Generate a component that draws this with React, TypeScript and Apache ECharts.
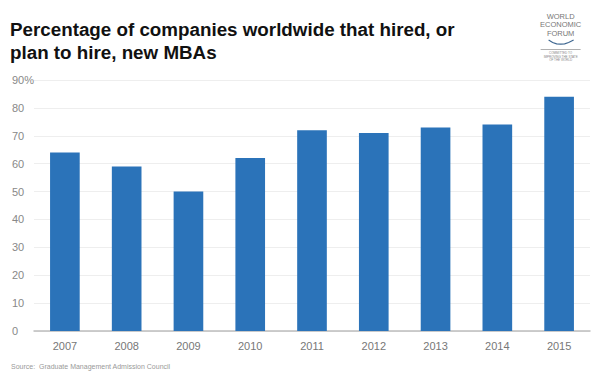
import React, { useEffect, useRef } from "react";
import * as echarts from "echarts";

const years = ["2007", "2008", "2009", "2010", "2011", "2012", "2013", "2014", "2015"];
const shares = [64, 59, 50, 62, 72, 71, 73, 74, 84];
const titleLines = ["Percentage of companies worldwide that hired, or", "plan to hire, new MBAs"];
const sourceText = "Source:  Graduate Management Admission Council";

export default function App() {
  const ref = useRef<HTMLDivElement>(null);
  useEffect(() => {
    const chart = echarts.init(ref.current!, null, { renderer: "svg" });
    const font = "'Liberation Sans', Arial, Helvetica, sans-serif";
    chart.setOption({
      animation: false,
      backgroundColor: "#ffffff",
      textStyle: { fontFamily: font },
      grid: { left: 34, right: 10, top: 80, bottom: 57 },
      xAxis: {
        type: "category",
        data: years,
        axisTick: { show: false },
        axisLine: { lineStyle: { color: "#bdbdbd", width: 1.5 } },
        axisLabel: { color: "#777777", fontSize: 11, margin: 9, fontFamily: font },
      },
      yAxis: {
        type: "value",
        min: 0,
        max: 90,
        interval: 10,
        splitLine: { lineStyle: { color: "#eeeeee", width: 1 } },
        axisLabel: {
          color: "#888888",
          fontSize: 11,
          align: "left",
          margin: 22,
          fontFamily: font,
          formatter: (v: number) => (v === 90 ? "90%" : String(v)),
        },
      },
      series: [
        {
          type: "bar",
          data: shares,
          barWidth: "48%",
          itemStyle: { color: "#2b73b9" },
        },
      ],
      graphic: {
        elements: [
          {
            type: "text",
            left: 10,
            top: 18,
            style: {
              text: titleLines.join("\n"),
              font: `bold 18.8px ${font}`,
              fill: "#111111",
              lineHeight: 23,
            },
          },
          {
            type: "text",
            left: 11,
            top: 363,
            style: { text: sourceText, font: `7px ${font}`, fill: "#999999" },
          },
          {
            type: "group",
            left: 540,
            top: 12,
            children: [
              {
                type: "text",
                x: 21,
                y: 1,
                style: {
                  text: "WORLD\nECONOMIC\nFORUM",
                  font: `7.5px ${font}`,
                  fill: "#777777",
                  align: "center",
                  lineHeight: 8.5,
                },
              },
              {
                type: "polyline",
                shape: {
                  points: [[9, 29], [13, 31.5], [17, 32.8], [21, 33.2], [25, 32.8], [29, 31.5], [34, 29]],
                },
                style: { stroke: "#3d6690", lineWidth: 1.2, fill: null },
              },
              {
                type: "rect",
                shape: { x: 1, y: 38, width: 40, height: 1 },
                style: { fill: "#b0b0b0" },
              },
              {
                type: "text",
                x: 21,
                y: 40,
                style: {
                  text: "COMMITTED TO\nIMPROVING THE STATE\nOF THE WORLD",
                  font: `3px ${font}`,
                  fill: "#888888",
                  align: "center",
                  lineHeight: 3.5,
                },
              },
            ],
          },
        ],
      },
    });
    return () => chart.dispose();
  }, []);
  return <div ref={ref} style={{ width: 600, height: 388, position: "absolute", left: 0, top: 0 }} />;
}
